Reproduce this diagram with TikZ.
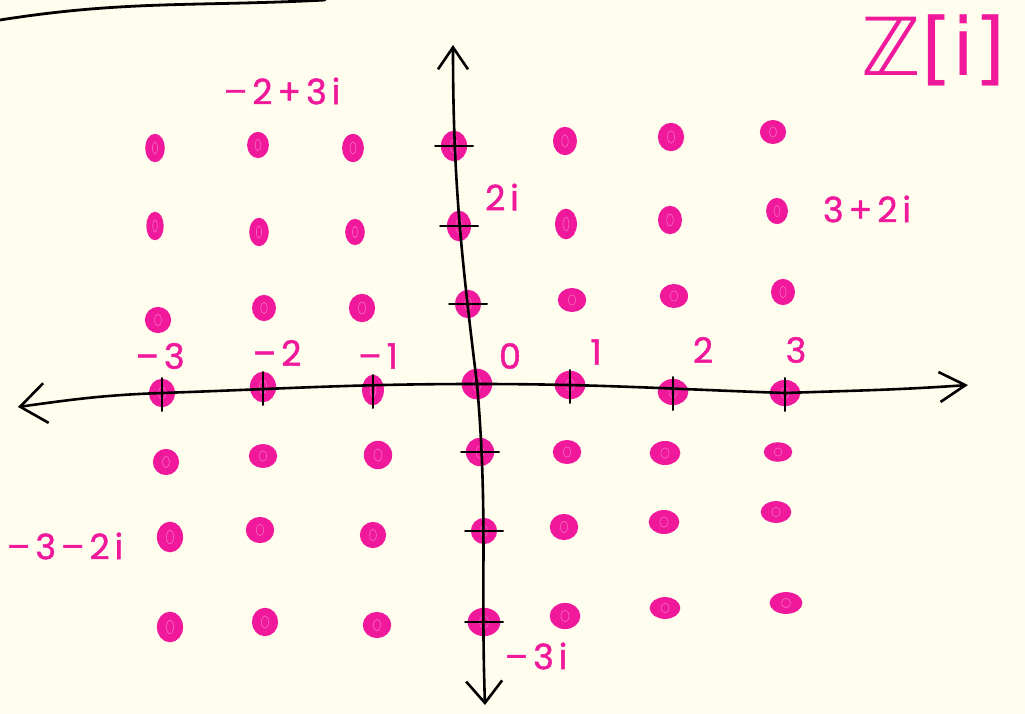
\documentclass[tikz,border=0pt]{standalone}
\usepackage{fontspec}
\setmainfont{Poppins}
\newfontfamily\hand{Poppins}[LetterSpace=14, FakeBold=1.3]
\newfontfamily\djv{DejaVu Sans}
\usetikzlibrary{arrows.meta,shapes.geometric}
\definecolor{bg}{HTML}{FFFDEE}
\definecolor{mag}{HTML}{F0199C}
\begin{document}
\begin{tikzpicture}[x=1pt,y=-1pt,
  axisline/.style={line width=2.6pt, black, line cap=round},
  tickline/.style={line width=2pt, black, line cap=round},
  dotn/.style={ellipse, fill=mag, draw=mag, line width=2pt, inner sep=0pt},
  scrib/.style={line width=0.6pt, white!35!mag},
  lbl/.style={text=mag, font=\hand\fontsize{35}{36}\selectfont, inner sep=0pt}]
\fill[bg] (0,0) rectangle (1025,714);
\useasboundingbox (0,0) rectangle (1025,714);
% top-left stroke
\coordinate (tl1) at (0,20);
\coordinate (tl2) at (325,0);
\draw[line width=2.8pt, line cap=round] (tl1) to[out=9,in=183] (tl2);
% lattice points
\foreach \n/\x/\y/\w/\h in {
 11/155/148/16/24, 12/258/145/18/22, 13/353/148/18/24, 14/454/146/22/26, 15/565/141/20/24, 16/671/137/22/24, 17/773/132/22/20,
 21/155/226/14/24, 22/259/232/16/24, 23/355/232/16/22, 24/459/226/20/26, 25/566/224/18/26, 26/670/220/20/24, 27/777/211/18/22,
 31/158/320/22/22, 32/264/308/20/22, 33/362/308/22/24, 34/468/304/22/24, 35/572/300/24/20, 36/674/296/24/20, 37/783/292/20/22,
 41/162/393/22/24, 42/263/387/22/26, 43/373/390/18/26, 44/477/384/26/26, 45/570/385/26/24, 46/673/392/26/22, 47/785/393/26/22,
 51/166/462/22/22, 52/263/456/24/20, 53/378/455/24/24, 54/480/452/24/24, 55/567/452/24/20, 56/665/453/26/20, 57/778/452/24/16,
 61/170/537/22/26, 62/260/530/24/22, 63/373/535/22/22, 64/484/531/22/22, 65/564/527/24/22, 66/664/522/26/20, 67/776/512/26/18,
 71/170/627/22/26, 72/265/622/22/24, 73/377/625/24/22, 74/484/622/28/24, 75/565/616/26/22, 76/665/608/26/18, 77/786/603/28/18}
{
  \pgfmathsetmacro{\ww}{1.1*\w}
  \pgfmathsetmacro{\hh}{1.1*\h}
  \node[dotn, minimum width=\ww pt, minimum height=\hh pt] (d\n) at (\x,\y) {};
  \pgfmathsetmacro{\rx}{0.16*\w}
  \pgfmathsetmacro{\ry}{0.26*\h}
  \draw[scrib] (d\n.center) ellipse [x radius=\rx pt, y radius=\ry pt];
}
% axes
\coordinate (hL) at (18,407);
\coordinate (hR) at (968,385);
\coordinate (vT) at (453,45);
\coordinate (vB) at (485,705);
\draw[axisline, {Straight Barb[length=26pt,width=40pt]}-{Straight Barb[length=26pt,width=30pt]}]
  (hL) to[out=8,in=182] (d41.center) to[out=2,in=180] (d44.center)
  to[out=0,in=178] (d47.center) to[out=2,in=184] (hR);
\draw[axisline, {Straight Barb[length=22pt,width=30pt]}-{Straight Barb[length=22pt,width=36pt]}]
  (vT) to[out=-90,in=97] (d44.center) to[out=-85,in=92] (vB);
% ticks
\foreach \n in {41,42,43,45,46,47}
  \draw[tickline] ([yshift=15pt]d\n.center) -- ([yshift=-18pt]d\n.center);
\foreach \n in {14,24,34,54,64,74}
  \draw[tickline] ([xshift=-19pt]d\n.center) -- ([xshift=19pt]d\n.center);
% labels
\node[lbl] (lm3) at (160,356) {–3};
\node[lbl] (lm2) at (277,353) {–2};
\node[lbl] (lm1) at (378,356) {–1};
\node[lbl] (l0) at (510,356) {0};
\node[lbl] (l1) at (596,352) {1};
\node[lbl] (l2) at (703,350) {2};
\node[lbl] (l3) at (796,350) {3};
\node[lbl] (l2i) at (502,197) {2i};
\node[lbl] (lm2p3i) at (282,91) {–2+3i};
\node[lbl] (l3p2i) at (867,209) {3+2i};
\node[lbl] (lm3m2i) at (65,546) {–3–2i};
\node[lbl] (lm3i) at (536,656) {–3i};
\node[lbl, font=\djv\fontsize{80}{82}\selectfont] (zi) at (934,50) {ℤ[i]};
\end{tikzpicture}
\end{document}
